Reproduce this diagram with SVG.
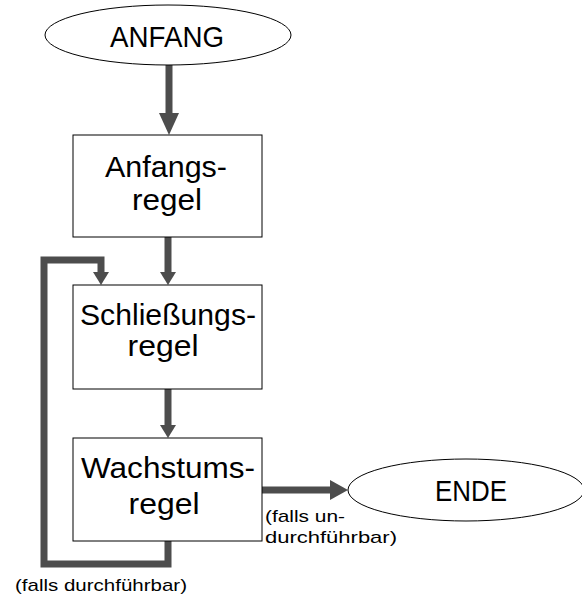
<svg xmlns="http://www.w3.org/2000/svg" width="582" height="600" viewBox="0 0 582 600">
<style>
.node{fill:#fff;stroke:#000;stroke-width:1}
.t{font-family:"Liberation Sans",Arial,sans-serif;fill:#000;text-anchor:middle}
.big{font-size:30px}
.lbl{font-family:"Liberation Sans",Arial,sans-serif;font-size:17px;fill:#000}
.w{fill:none;stroke:#4d4d4d;stroke-width:7}
.h{fill:#4d4d4d}
</style>
<rect width="582" height="600" fill="#fff"/>
<g id="connectors">
<line class="w" x1="169" y1="64" x2="169" y2="114"/>
<polygon class="h" points="159,113 179,113 169,135"/>
<line class="w" x1="168" y1="237" x2="168" y2="274"/>
<polygon class="h" points="160,272 176,272 168,285"/>
<line class="w" x1="168" y1="389" x2="168" y2="426"/>
<polygon class="h" points="160,425 176,425 168,438"/>
<polyline class="w" points="168,541 168,564 44,564 44,260 101,260 101,274"/>
<polygon class="h" points="93,272 109,272 101,285"/>
<line class="w" x1="262" y1="490" x2="332" y2="490"/>
<polygon class="h" points="330,480 330,500 348,490"/>
<text class="lbl" x="265" y="522" textLength="80" lengthAdjust="spacingAndGlyphs">(falls un-</text>
<text class="lbl" x="265" y="543" textLength="132" lengthAdjust="spacingAndGlyphs">durchführbar)</text>
<text class="lbl" x="15" y="591" textLength="172" lengthAdjust="spacingAndGlyphs">(falls durchführbar)</text>
</g>
<g id="anfang">
<ellipse class="node" cx="168" cy="35" rx="123" ry="30"/>
<text class="t big" x="167" y="47" textLength="114" lengthAdjust="spacingAndGlyphs">ANFANG</text>
</g>
<g id="anfangsregel">
<rect class="node" x="73" y="135" width="189" height="102"/>
<text class="t big" x="166" y="177" textLength="122" lengthAdjust="spacingAndGlyphs">Anfangs-</text>
<text class="t big" x="167" y="210" textLength="70" lengthAdjust="spacingAndGlyphs">regel</text>
</g>
<g id="schliessungsregel">
<rect class="node" x="73" y="285" width="189" height="104"/>
<text class="t big" x="168" y="325" textLength="176" lengthAdjust="spacingAndGlyphs">Schließungs-</text>
<text class="t big" x="163" y="356" textLength="71" lengthAdjust="spacingAndGlyphs">regel</text>
</g>
<g id="wachstumsregel">
<rect class="node" x="73" y="438" width="189" height="103"/>
<text class="t big" x="168" y="478" textLength="174" lengthAdjust="spacingAndGlyphs">Wachstums-</text>
<text class="t big" x="164" y="514" textLength="71" lengthAdjust="spacingAndGlyphs">regel</text>
</g>
<g id="ende">
<ellipse class="node" cx="466" cy="490" rx="118" ry="31"/>
<text class="t big" x="471" y="501" textLength="72" lengthAdjust="spacingAndGlyphs">ENDE</text>
</g>
</svg>
